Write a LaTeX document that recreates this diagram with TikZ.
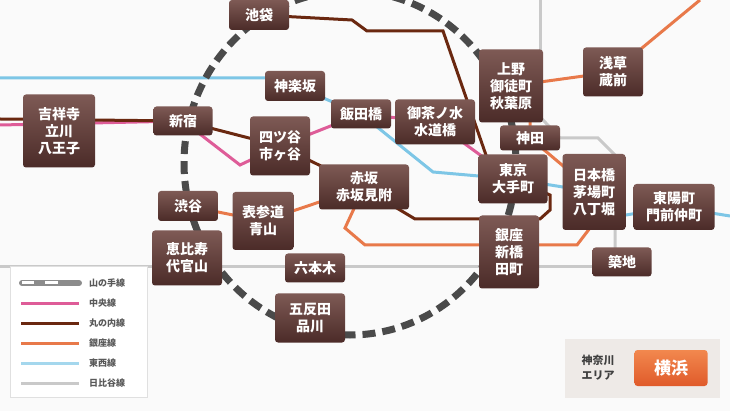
\documentclass[tikz,border=0pt]{standalone}
\usepackage{fontspec}
\setmainfont{Noto Sans CJK JP}
\usetikzlibrary{backgrounds}
\definecolor{bgc}{HTML}{FAFAFA}
\definecolor{nodetop}{HTML}{7E5A55}
\definecolor{nodebot}{HTML}{4B2B28}
\definecolor{tozai}{HTML}{7DC6E6}
\definecolor{maru}{HTML}{6A2810}
\definecolor{chuo}{HTML}{DE5C98}
\definecolor{ginza}{HTML}{E8794A}
\definecolor{hibiya}{HTML}{C9C9C9}
\definecolor{yama}{HTML}{4A4A4A}
\definecolor{kbox}{HTML}{EEEAE7}
\definecolor{ytop}{HTML}{F2884E}
\definecolor{ybot}{HTML}{E05A2A}
\tikzset{
  st/.style={rounded corners=3pt, top color=nodetop, bottom color=nodebot, text=white,
    font=\fontsize{14}{17}\selectfont\bfseries, align=center, inner sep=0pt},
  ln/.style={line width=3pt},
  lg/.style={font=\fontsize{9}{10}\selectfont\bfseries, text=black!65, anchor=west, inner sep=0pt}
}
\begin{document}
\begin{tikzpicture}[x=1pt,y=-1pt]
\useasboundingbox (0,0) rectangle (730,411);
% nodes
\node[st, minimum width=60, minimum height=30] (ike) at (259,15) {池袋};
\node[st, minimum width=72, minimum height=73] (kich) at (59,131) {吉祥寺\\立川\\八王子};
\node[st, minimum width=59, minimum height=29] (shin) at (183,121) {新宿};
\node[st, minimum width=60, minimum height=30] (kagu) at (295,86) {神楽坂};
\node[st, minimum width=60, minimum height=29] (iida) at (361,114) {飯田橋};
\node[st, minimum width=60, minimum height=59] (yotsu) at (280,146) {四ツ谷\\市ヶ谷};
\node[st, minimum width=80, minimum height=45] (ocha) at (435,122) {御茶ノ水\\水道橋};
\node[st, minimum width=64, minimum height=73] (ueno) at (511,86) {上野\\御徒町\\秋葉原};
\node[st, minimum width=60, minimum height=49] (asa) at (613,72) {浅草\\蔵前};
\node[st, minimum width=60, minimum height=25] (kanda) at (530,138) {神田};
\node[st, minimum width=69, minimum height=49] (tokyo) at (513,179) {東京\\大手町};
\node[st, minimum width=63, minimum height=76] (nihon) at (594,192) {日本橋\\茅場町\\八丁堀};
\node[st, minimum width=81, minimum height=46] (toyo) at (674,207) {東陽町\\門前仲町};
\node[st, minimum width=90, minimum height=45] (aka) at (364,187) {赤坂\\赤坂見附};
\node[st, minimum width=60, minimum height=30] (shibu) at (188,206) {渋谷};
\node[st, minimum width=61, minimum height=58] (omote) at (263,221) {表参道\\青山};
\node[st, minimum width=70, minimum height=55] (ebi) at (187,258) {恵比寿\\代官山};
\node[st, minimum width=60, minimum height=29] (roppo) at (315,268) {六本木};
\node[st, minimum width=70, minimum height=49] (gota) at (310,318) {五反田\\品川};
\node[st, minimum width=60, minimum height=73] (ginz) at (509,252) {銀座\\新橋\\田町};
\node[st, minimum width=59, minimum height=29] (tsuki) at (622,262) {築地};
% edge coordinates
\coordinate (tzW) at (0,78);
\coordinate (tzE) at (730,216);
\coordinate (mW) at (0,119);
\coordinate (cW) at (0,125);
\coordinate (hN) at (540,0);
\coordinate (gNE) at (700,0);
\coordinate (hW) at (0,267);
\begin{scope}[on background layer]
\fill[bgc] (0,0) rectangle (730,411);
% Hibiya
\draw[ln, hibiya] (hN) -- (540,86) -- (ueno.center);
\draw[ln, hibiya] (ueno.center) -- (560,138) -- (598,138) -- (615,155) -- (615,262) -- (tsuki.center);
\draw[ln, hibiya] (hW) -- (622,267) -- (tsuki.center);
% Tozai
\draw[ln, tozai] (tzW) -- (295,78) -- (kagu.center) -- (iida.center) -- (433,172) -- (tokyo.center) -- (nihon.center);
\draw[ln, tozai] (nihon.center) -- (620,216) -- (toyo.center) -- (tzE);
% Ginza
\draw[ln, ginza] (gNE) -- (asa.center) -- (ueno.center) -- (530,120) -- (kanda.center) -- (nihon.center);
\draw[ln, ginza] (nihon.center) -- (590,228) -- (577,245) -- (365,245) -- (345,228) -- (aka.center);
\draw[ln, ginza] (aka.center) -- (omote.center) -- (shibu.center);
% Chuo
\draw[ln, chuo] (cW) -- (shin.center) -- (240,165) -- (yotsu.center) -- (iida.center) -- (ocha.center) -- (tokyo.center);
% Marunouchi
\draw[ln, maru] (mW) -- (shin.center) -- (yotsu.center) -- (aka.center) -- (395,207) -- (415,219) -- (540,219) -- (550,210) -- (550,195) -- (tokyo.center);
\draw[ln, maru] (ike.center) -- (352,20) -- (367,31) -- (443,31) -- (487,158) -- (tokyo.center);
% Yamanote
\begin{scope}
\clip (0,0) rectangle (730,411);
\draw[yama, line width=7pt, dash pattern=on 13pt off 7pt] (350,163) ellipse [x radius=166, y radius=172];
\end{scope}
\end{scope}
% legend
\node[draw=black!12, fill=white, minimum width=137, minimum height=131, inner sep=0pt] (leg) at (78.5,331.5) {};
\draw[line width=6pt, black!45, line cap=round] (22,283) -- (79,283);
\draw[line width=3pt, white] (22,283) -- (34,283) (45,283) -- (58,283);
\draw[line width=3pt, chuo] (21,303) -- (79,303);
\draw[line width=3pt, maru] (21,323) -- (79,323);
\draw[line width=3pt, ginza] (21,343) -- (79,343);
\draw[line width=3pt, tozai!70] (21,363) -- (79,363);
\draw[line width=3pt, hibiya] (21,383) -- (79,383);
\node[lg] (l1) at (89,283) {山の手線};
\node[lg] (l2) at (89,303) {中央線};
\node[lg] (l3) at (89,323) {丸の内線};
\node[lg] (l4) at (89,343) {銀座線};
\node[lg] (l5) at (89,363) {東西線};
\node[lg] (l6) at (89,383) {日比谷線};
% Kanagawa
\node[fill=kbox, minimum width=155, minimum height=59, inner sep=0pt] (kan) at (642.5,368.5) {};
\node[font=\fontsize{11}{15}\selectfont\bfseries, text=black!75, align=left, inner sep=0pt] (kt) at (598,368) {神奈川\\エリア};
\node[rounded corners=3pt, top color=ytop, bottom color=ybot, text=white, font=\fontsize{17}{20}\selectfont\bfseries, minimum width=73, minimum height=36, inner sep=0pt] (yoko) at (671,368) {横浜};
\end{tikzpicture}
\end{document}
